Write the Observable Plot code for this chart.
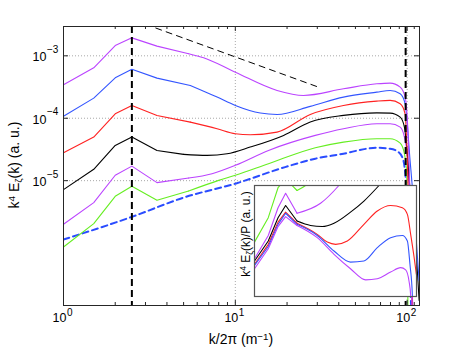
<!DOCTYPE html>
<html><head><meta charset="utf-8">
<script src="https://cdn.jsdelivr.net/npm/d3@7"></script>
<script src="https://cdn.jsdelivr.net/npm/@observablehq/plot@0.6"></script>
<style>
body{margin:0;background:#fff;}
#wrap{position:relative;width:463px;height:349px;font-family:"Liberation Sans",Arial,sans-serif;color:#000;}
#wrap svg{position:absolute;overflow:visible;}
.lab{position:absolute;white-space:nowrap;line-height:1;}
.lab sup{font-size:0.7em;position:relative;top:-0.45em;vertical-align:baseline;}
.lab sub{font-size:0.7em;position:relative;top:0.3em;vertical-align:baseline;}
</style></head><body><div id="wrap"></div>
<script>
// ---------- main chart data ----------
const kPurple1 = [1,1.5,2,2.5,3.5,5.35,6.54,10,17.5,24.9,42.6,66.6,79.6,91.1,97.3,99.5,104,106.6,108];
const purple1  = [3.44e-4,6.43e-4,1.46e-3,1.94e-3,1.43e-3,1.08e-3,9.3e-4,5.47e-4,2.79e-4,2.32e-4,2.96e-4,3.56e-4,3.65e-4,3.15e-4,2.18e-4,1.33e-4,4.8e-6,1e-7,3e-8];
const kBlue    = [1,1.5,2,2.5,3.5,5.47,7.83,10,13.97,17.5,27.3,42.6,66.6,79.6,91.1,97.3,104,108.8,117.4];
const blue     = [1.08e-4,2.10e-4,4.45e-4,6.11e-4,4.39e-4,3.35e-4,2.18e-4,1.60e-4,1.21e-4,1.15e-4,1.55e-4,2.18e-4,2.62e-4,2.79e-4,2.47e-4,1.71e-4,2.11e-5,4.84e-6,2.5e-7];
const kRed     = [1,1.5,2,2.5,3.5,5.47,7.83,10,12.2,17.5,27.3,42.6,66.6,79.6,91.1,97.3,99.5,101.8,106.9,108];
const red      = [2.81e-5,4.99e-5,1.18e-4,1.60e-4,1.11e-4,8.67e-5,6.79e-5,5.65e-5,5.44e-5,6.0e-5,1.15e-4,1.60e-4,1.88e-4,1.93e-4,1.71e-4,1.18e-4,3.91e-5,4.84e-6,1e-7,5e-8];
const kBlack   = [1,1.5,2,2.5,3.5,5.0,6.85,8.95,12.2,19.1,27.3,42.6,66.6,79.6,91.1,96.4,99.5,104,112.8,117.4];
const black    = [7.18e-6,1.52e-5,3.67e-5,5.02e-5,3.05e-5,2.64e-5,2.54e-5,2.70e-5,3.45e-5,5.31e-5,8.7e-5,1.11e-4,1.22e-4,1.21e-4,1.04e-4,7.21e-5,3.45e-5,7.0e-6,7.7e-7,1.2e-7];
const kPurple2 = [1,1.5,2,2.5,3.5,5.35,7.32,10,15.6,29.2,42.6,66.6,79.6,91.1,96.4,100.4,104,107.7,109];
const purple2  = [2.0e-6,4.45e-6,1.22e-5,1.71e-5,9.29e-6,1.10e-5,1.29e-5,1.76e-5,3.05e-5,5.31e-5,6.79e-5,8.17e-5,8.17e-5,7.21e-5,4.99e-5,2.39e-5,3.35e-6,1e-7,5e-8];
const kGreen   = [1,1.5,2,2.5,3.5,5.35,8.0,10,15.6,29.2,42.6,66.6,79.6,91.1,96.4,99.5,100.5,101,102];
const green    = [8.67e-7,2.05e-6,5.61e-6,8.11e-6,4.84e-6,6.82e-6,1.01e-5,1.22e-5,1.87e-5,3.37e-5,4.15e-5,4.70e-5,4.70e-5,4.0e-5,2.70e-5,1.22e-5,1.11e-6,1e-7,3e-8];
const kDashed  = [1,2.5,5.12,10,19.5,29.2,42.6,58.3,66.6,79.6,89,95.1,100,105.5,107];
const dashed   = [1.14e-6,2.63e-6,5.47e-6,8.95e-6,1.65e-5,2.25e-5,2.70e-5,3.25e-5,3.37e-5,3.25e-5,2.87e-5,2.11e-5,4.84e-6,1e-7,5e-8];
const kSlope   = [3, 30];            // k^-1 reference line
const slope    = [3.2e-3, 3.2e-4];
const vLines   = [2.5, 98];

// ---------- inset data (normalised, arbitrary linear units) ----------
const ikPurple1 = [1,1.5,2,2.5,3.5,6.35,10.4,16.9,26.4,37.2,55.1,74,85.8,94.6,99.4,102];
const iPurple1  = [0.25,0.43,0.63,0.72,0.64,0.53,0.38,0.25,0.15,0.16,0.22,0.26,0.24,0.14,0.01,-0.2];
const ikBlue    = [1,1.5,2,2.5,3.5,6.35,10.4,16.9,25.1,37.2,55.1,77.8,90.2,97.3,104.5,107];
const iBlue     = [0.28,0.45,0.65,0.75,0.65,0.55,0.41,0.31,0.32,0.44,0.53,0.55,0.50,0.29,0.01,-0.2];
const ikRed     = [1,1.5,2,2.5,3.5,6.35,8.53,10.9,15.4,25.1,37.2,55.1,77.8,90.2,99.4,109.6,117.5];
const iRed      = [0.29,0.47,0.67,0.76,0.66,0.56,0.49,0.47,0.50,0.65,0.77,0.82,0.80,0.74,0.56,0.36,0.2];
const ikBlack   = [1,1.5,2,2.5,3.5,5.21,7.36,10.4,16.9,25.1,39.1,60];
const iBlack    = [0.32,0.50,0.71,0.82,0.68,0.64,0.63,0.66,0.76,0.86,1.0,1.15];
const ikPurple2 = [1,1.5,2,2.5,3.5,7.0,12.0,20];
const iPurple2  = [0.34,0.55,0.80,0.93,0.75,0.84,1.0,1.2];
const ikGreen   = [1,1.5,2,2.5,3.5,4.5,6];
const iGreen    = [0.49,0.71,0.98,1.06,0.955,1.0,1.08];

// ---------- axes / ticks ----------
const xDomain = [1, 118];
const yDomain = [1e-7, 2.95e-3];
const xMajor = [1, 10, 100];
const xMajorExp = ["0", "1", "2"];
const xMinor = [2,3,4,5,6,7,8,9,20,30,40,50,60,70,80,90,110];
const yMajor = [1e-3, 1e-4, 1e-5];
const yMajorExp = ["\u22123", "\u22124", "\u22125"];
const xGrid = [10, 100];

const C = {purple:"#bb44ff", blue:"#3355ff", red:"#ff2222", black:"#000000", green:"#66ee22", dblue:"#2a4cff"};

const mk = (ks, vs) => ks.map((k, i) => ({k, v: vs[i]}));
// first few points (coarse k grid) are joined by straight segments, the rest is smooth
const series = [
  {d: mk(kGreen, green),    stroke: C.green,  split: 5},
  {d: mk(kPurple2, purple2),stroke: C.purple, split: 5},
  {d: mk(kBlack, black),    stroke: C.black,  split: 5},
  {d: mk(kRed, red),        stroke: C.red,    split: 5},
  {d: mk(kBlue, blue),      stroke: C.blue,   split: 5},
  {d: mk(kPurple1, purple1),stroke: C.purple, split: 5}
];

const W = 463, H = 349, mL = 63, mR = 44, mT = 26, mB = 44;
const pH = H - mT - mB, pW = W - mL - mR;
const axisColor = "#262626";
const font = "Liberation Sans, Arial, sans-serif";

function seriesMarks(s, w) {
  return [
    Plot.line(s.d.slice(0, s.split + 1), {x: "k", y: "v", stroke: s.stroke, strokeWidth: w, clip: true}),
    Plot.line(s.d.slice(s.split), {x: "k", y: "v", stroke: s.stroke, strokeWidth: w, curve: "monotone-x", clip: true})
  ];
}

const main = Plot.plot({
  width: W, height: H, marginLeft: mL, marginRight: mR, marginTop: mT, marginBottom: mB,
  x: {type: "log", domain: xDomain, axis: null},
  y: {type: "log", domain: yDomain, axis: null},
  style: {fontFamily: font, background: "white", color: "#000"},
  marks: [
    Plot.ruleY(yMajor, {y: d => d, stroke: "#a8a8a8", strokeDasharray: "1,2"}),
    Plot.ruleX(xGrid, {x: d => d, stroke: "#a8a8a8", strokeDasharray: "1,2"}),
    Plot.line(mk(kDashed, dashed), {x: "k", y: "v", stroke: C.dblue, strokeWidth: 2, strokeDasharray: "6,4", curve: "monotone-x", clip: true}),
    ...series.flatMap(s => seriesMarks(s, 1.1)),
    Plot.line(mk(kSlope, slope), {x: "k", y: "v", stroke: "#000", strokeWidth: 1, strokeDasharray: "6,5", clip: true}),
    Plot.ruleX(vLines, {x: d => d, stroke: "#000", strokeWidth: 2, strokeDasharray: "7,4"}),
    // inward ticks
    Plot.ruleX(xMajor, {x: d => d, insetTop: pH - 5, stroke: axisColor}),
    Plot.ruleX(xMajor, {x: d => d, insetBottom: pH - 5, stroke: axisColor}),
    Plot.ruleX(xMinor, {x: d => d, insetTop: pH - 3, stroke: axisColor}),
    Plot.ruleX(xMinor, {x: d => d, insetBottom: pH - 3, stroke: axisColor}),
    Plot.ruleY(yMajor, {y: d => d, insetRight: pW - 5, stroke: axisColor}),
    Plot.ruleY(yMajor, {y: d => d, insetLeft: pW - 5, stroke: axisColor}),
    Plot.frame({stroke: axisColor}),
    // tick labels
    Plot.text(xMajor, {x: d => d, frameAnchor: "bottom", text: () => "10", textAnchor: "end", dx: 3, dy: 16.5, fontSize: 12.5, fill: "#000"}),
    Plot.text(xMajor, {x: d => d, frameAnchor: "bottom", text: (d, i) => xMajorExp[i], textAnchor: "start", dx: 3.5, dy: 10, fontSize: 10, fill: "#000"}),
    Plot.text(yMajor, {y: d => d, frameAnchor: "left", text: () => "10", textAnchor: "end", dx: -17, dy: 1.5, fontSize: 12.5, fill: "#000"}),
    Plot.text(yMajor, {y: d => d, frameAnchor: "left", text: (d, i) => yMajorExp[i], textAnchor: "start", dx: -16.5, dy: -6, fontSize: 10, fill: "#000"})
  ]
});
const wrap = document.getElementById("wrap");
main.style.left = "0px"; main.style.top = "0px";
wrap.appendChild(main);

// ---------- inset ----------
const iseries = [
  {d: mk(ikGreen, iGreen),     stroke: C.green,  split: 4},
  {d: mk(ikPurple2, iPurple2), stroke: C.purple, split: 4},
  {d: mk(ikBlack, iBlack),     stroke: C.black,  split: 4},
  {d: mk(ikRed, iRed),         stroke: C.red,    split: 4},
  {d: mk(ikBlue, iBlue),       stroke: C.blue,   split: 4},
  {d: mk(ikPurple1, iPurple1), stroke: C.purple, split: 4}
];
const inset = Plot.plot({
  width: 175, height: 113, marginLeft: 12, marginRight: 1, marginTop: 1, marginBottom: 1,
  x: {type: "log", domain: xDomain, axis: null},
  y: {domain: [0, 1], axis: null},
  style: {fontFamily: font, background: "transparent"},
  marks: [
    Plot.frame({fill: "white", stroke: "#555"}),
    ...iseries.flatMap(s => seriesMarks(s, 1.1)),
    Plot.frame({stroke: "#555", strokeWidth: 1.2})
  ]
});
inset.style.left = "242px"; inset.style.top = "184px";
wrap.appendChild(inset);

// ---------- axis labels ----------
function label(html, x, y, size, rot) {
  const d = document.createElement("div");
  d.className = "lab";
  d.innerHTML = html;
  d.style.fontSize = size + "px";
  d.style.left = x + "px"; d.style.top = y + "px";
  d.style.transform = "translate(-50%,-50%)" + (rot ? " rotate(-90deg)" : "");
  wrap.appendChild(d);
}
label("k<sup>4</sup> E<sub>\u03b6</sub>(k) (a. u.)", 14, 165, 14, true);
label("k/2\u03c0 (m<sup>\u22121</sup>)", 241, 339, 14, false);
label("k<sup>4</sup> E<sub>\u03b6</sub>(k)/P (a. u.)", 246, 234, 12, true);
</script>
</body></html>
